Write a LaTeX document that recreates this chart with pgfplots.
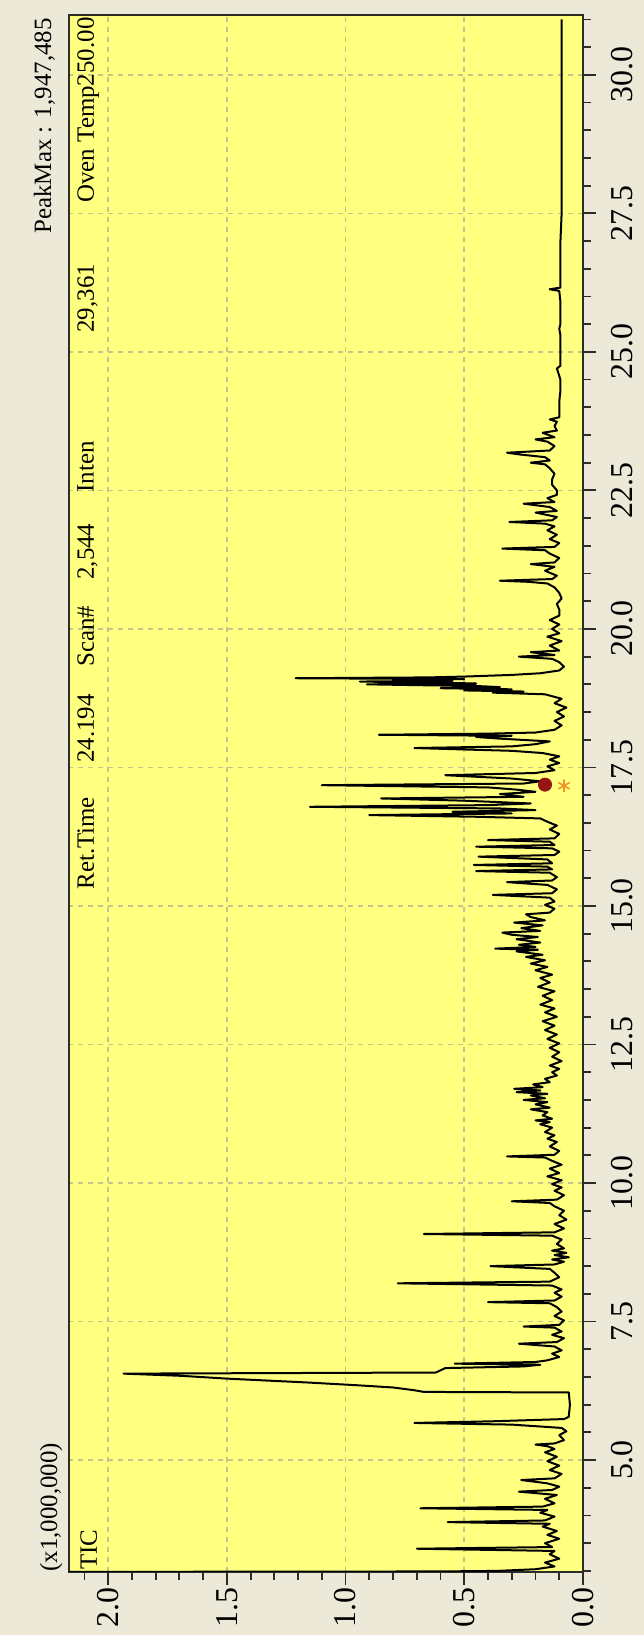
\documentclass[border=0pt]{standalone}
\usepackage{pgfplots}
\pgfplotsset{compat=1.18}
\usepackage{pgfplotstable}
\usepackage{fontspec}
\setmainfont{Liberation Serif}

\definecolor{panelbg}{RGB}{236,233,216}
\definecolor{plotyellow}{RGB}{255,255,128}
\definecolor{gridcol}{RGB}{196,196,140}
\definecolor{framecol}{RGB}{45,45,40}
\definecolor{cursorred}{RGB}{150,20,20}
\definecolor{cursororange}{RGB}{240,150,40}

\newcommand{\lbl}{\fontsize{12.5}{15}\selectfont}
\newcommand{\ticklbl}{\fontsize{16}{18}\selectfont}

% total ion current: retention time (min), intensity (x1,000,000)
\pgfplotstableread{
t i
2.980 2.40
2.985 1.56
2.990 0.60
3.000 0.36
3.030 0.20
3.080 0.12
3.150 0.16
3.220 0.10
3.300 0.14
3.360 0.12
3.400 0.70
3.430 0.13
3.500 0.16
3.580 0.10
3.650 0.15
3.720 0.11
3.800 0.17
3.850 0.14
3.880 0.57
3.910 0.16
3.980 0.12
4.050 0.18
4.100 0.15
4.130 0.685
4.160 0.17
4.220 0.12
4.300 0.16
4.370 0.11
4.430 0.27
4.460 0.13
4.520 0.10
4.580 0.15
4.640 0.26
4.670 0.12
4.750 0.09
4.820 0.14
4.900 0.10
4.980 0.15
5.060 0.11
5.140 0.16
5.200 0.12
5.250 0.15
5.280 0.20
5.300 0.12
5.360 0.08
5.450 0.10
5.520 0.07
5.580 0.09
5.640 0.30
5.670 0.71
5.700 0.38
5.740 0.08
5.780 0.06
6.000 0.055
6.220 0.06
6.230 0.67
6.260 0.71
6.310 0.80
6.350 0.95
6.400 1.16
6.470 1.50
6.520 1.69
6.560 1.935
6.580 0.62
6.660 0.58
6.690 0.25
6.720 0.18
6.740 0.54
6.770 0.20
6.800 0.15
6.860 0.10
6.920 0.13
6.980 0.09
7.050 0.12
7.100 0.27
7.130 0.11
7.200 0.08
7.260 0.13
7.320 0.09
7.390 0.12
7.410 0.25
7.440 0.10
7.520 0.08
7.600 0.12
7.680 0.09
7.760 0.11
7.830 0.14
7.850 0.40
7.880 0.12
7.950 0.09
8.020 0.12
8.080 0.09
8.150 0.13
8.190 0.78
8.220 0.14
8.300 0.10
8.380 0.12
8.450 0.14
8.500 0.39
8.530 0.12
8.580 0.08
8.620 0.13
8.660 0.06
8.700 0.12
8.740 0.07
8.780 0.13
8.820 0.08
8.900 0.11
8.980 0.09
9.050 0.13
9.080 0.67
9.110 0.12
9.180 0.08
9.260 0.12
9.340 0.07
9.420 0.10
9.500 0.08
9.580 0.12
9.640 0.14
9.670 0.30
9.700 0.11
9.780 0.08
9.860 0.12
9.920 0.09
9.980 0.13
10.050 0.09
10.120 0.15
10.180 0.10
10.260 0.14
10.330 0.09
10.400 0.13
10.460 0.16
10.480 0.32
10.510 0.12
10.580 0.10
10.660 0.14
10.740 0.11
10.800 0.15
10.860 0.12
10.920 0.16
11.000 0.13
11.060 0.18
11.100 0.14
11.130 0.20
11.160 0.13
11.220 0.17
11.280 0.15
11.330 0.22
11.360 0.14
11.420 0.20
11.460 0.15
11.500 0.25
11.530 0.16
11.580 0.22
11.610 0.15
11.640 0.28
11.670 0.18
11.700 0.29
11.730 0.17
11.780 0.21
11.820 0.14
11.880 0.16
11.940 0.11
12.000 0.13
12.060 0.10
12.120 0.14
12.200 0.09
12.280 0.13
12.360 0.10
12.440 0.14
12.520 0.10
12.600 0.15
12.680 0.11
12.760 0.16
12.840 0.12
12.920 0.17
13.000 0.11
13.080 0.16
13.150 0.12
13.220 0.18
13.300 0.13
13.380 0.17
13.460 0.12
13.540 0.19
13.620 0.14
13.700 0.18
13.760 0.13
13.840 0.20
13.900 0.15
13.960 0.22
14.020 0.16
14.080 0.24
14.120 0.17
14.180 0.28
14.210 0.19
14.230 0.37
14.260 0.20
14.300 0.27
14.340 0.18
14.400 0.28
14.440 0.19
14.480 0.30
14.520 0.34
14.550 0.18
14.600 0.26
14.650 0.17
14.700 0.29
14.740 0.16
14.800 0.22
14.850 0.24
14.880 0.14
14.950 0.12
15.020 0.16
15.080 0.12
15.150 0.14
15.200 0.38
15.230 0.13
15.300 0.11
15.380 0.15
15.430 0.32
15.460 0.13
15.520 0.11
15.600 0.14
15.630 0.45
15.660 0.13
15.710 0.15
15.740 0.46
15.770 0.13
15.840 0.15
15.890 0.44
15.920 0.12
15.980 0.10
16.040 0.13
16.070 0.45
16.100 0.12
16.160 0.14
16.190 0.40
16.220 0.12
16.300 0.10
16.380 0.14
16.450 0.11
16.520 0.15
16.580 0.18
16.610 0.45
16.640 0.90
16.670 0.30
16.700 0.55
16.730 0.20
16.760 0.35
16.790 1.15
16.820 0.40
16.850 0.22
16.900 0.50
16.940 0.85
16.970 0.25
17.020 0.35
17.060 0.20
17.100 0.28
17.140 0.40
17.180 1.10
17.210 0.25
17.250 0.18
17.300 0.30
17.360 0.58
17.400 0.20
17.450 0.12
17.520 0.15
17.580 0.10
17.640 0.14
17.700 0.10
17.760 0.17
17.800 0.30
17.850 0.71
17.880 0.30
17.920 0.20
17.970 0.14
18.020 0.35
18.050 0.45
18.070 0.30
18.090 0.86
18.110 0.40
18.130 0.20
18.180 0.12
18.260 0.09
18.340 0.12
18.420 0.08
18.500 0.11
18.580 0.07
18.660 0.12
18.740 0.09
18.820 0.16
18.850 0.38
18.870 0.25
18.890 0.50
18.910 0.30
18.930 0.60
18.950 0.35
18.970 0.45
18.985 0.70
19.000 0.91
19.015 0.45
19.030 0.60
19.050 0.94
19.065 0.55
19.080 0.80
19.095 0.50
19.110 1.21
19.125 0.65
19.140 0.50
19.155 0.40
19.170 0.30
19.200 0.18
19.250 0.10
19.320 0.08
19.400 0.10
19.460 0.13
19.500 0.27
19.530 0.12
19.580 0.22
19.610 0.10
19.700 0.14
19.780 0.09
19.860 0.15
19.920 0.10
20.000 0.13
20.080 0.10
20.160 0.14
20.240 0.10
20.350 0.10
20.450 0.11
20.550 0.09
20.650 0.10
20.750 0.12
20.820 0.15
20.850 0.23
20.870 0.35
20.900 0.13
20.960 0.11
21.050 0.16
21.120 0.12
21.170 0.22
21.200 0.12
21.280 0.10
21.360 0.14
21.420 0.16
21.450 0.34
21.480 0.12
21.550 0.10
21.620 0.14
21.700 0.11
21.780 0.15
21.850 0.12
21.900 0.16
21.930 0.31
21.960 0.13
22.020 0.11
22.100 0.20
22.130 0.11
22.200 0.14
22.260 0.25
22.290 0.12
22.360 0.15
22.420 0.11
22.500 0.11
22.600 0.13
22.700 0.13
22.800 0.12
22.900 0.14
22.970 0.16
23.000 0.22
23.040 0.14
23.100 0.16
23.150 0.27
23.180 0.32
23.220 0.14
23.300 0.12
23.380 0.15
23.420 0.20
23.460 0.12
23.540 0.17
23.580 0.11
23.660 0.12
23.740 0.11
23.780 0.14
23.820 0.10
23.950 0.10
24.100 0.10
24.300 0.095
24.500 0.095
24.700 0.11
24.750 0.095
25.000 0.095
25.300 0.095
25.420 0.10
25.500 0.095
25.900 0.095
26.100 0.10
26.130 0.14
26.160 0.095
26.600 0.095
27.000 0.095
27.500 0.09
28.000 0.09
28.500 0.09
29.000 0.09
29.500 0.09
30.000 0.09
30.500 0.09
31.000 0.09
}\tictable

\begin{document}
\begin{tikzpicture}
% window background, also the page size
\path[use as bounding box, fill=panelbg] (-34.5bp,-31.5bp) rectangle (287.5bp,786bp);
\begin{axis}[
  at={(0,0)}, anchor=south west,
  scale only axis, width=257bp, height=778.5bp,
  x dir=reverse,
  xmin=0, xmax=2.165, ymin=2.98, ymax=31.08,
  clip mode=individual,
  axis background/.style={fill=plotyellow},
  axis line style={framecol, line width=1.3bp},
  xtick={0,0.5,1.0,1.5,2.0},
  minor xtick={0.1,0.2,0.3,0.4,0.6,0.7,0.8,0.9,1.1,1.2,1.3,1.4,1.6,1.7,1.8,1.9,2.1},
  ytick={5,7.5,10,12.5,15,17.5,20,22.5,25,27.5,30},
  minor ytick={3,3.5,4,4.5,5.5,6,6.5,7,8,8.5,9,9.5,10.5,11,11.5,12,13,13.5,14,14.5,15.5,16,16.5,17,18,18.5,19,19.5,20.5,21,21.5,22,23,23.5,24,24.5,25.5,26,26.5,27,28,28.5,29,29.5,30.5,31},
  xtick pos=left, ytick pos=right,
  xticklabel pos=left, yticklabel pos=right,
  tick align=outside,
  major tick length=6.5bp, minor tick length=4bp,
  tick style={framecol, line width=0.9bp},
  grid=major,
  major grid style={gridcol, dash pattern=on 2.5bp off 2.5bp, line width=0.8bp},
  /pgf/number format/.cd, fixed, fixed zerofill, precision=1, assume math mode=true,
  /pgfplots/.cd,
  tick label style={font=\ticklbl, text=black},
  xticklabel style={rotate=90, anchor=east, inner sep=1bp},
  yticklabel style={rotate=90, anchor=north, inner sep=1bp},
  yticklabel shift=6.5bp,
]
\addplot[black, line width=1bp, line join=round] table[x=i, y=t] {\tictable};
% cursor position
\addplot[only marks, mark=*, mark size=3.3bp, cursorred] coordinates {(0.16,17.19)};
\addplot[only marks, mark=asterisk, mark size=3.2bp, cursororange, line width=0.8bp] coordinates {(0.08,17.17)};
\end{axis}
% header line (the frame spans 0..257bp across and 0..778.5bp along the time axis)
\begin{scope}[every node/.style={rotate=90, inner sep=0pt, font=\lbl}]
\node[anchor=north west] at (5.5bp,1bp) {TIC};
\node[anchor=north west] at (4bp,341bp) {Ret.Time};
\node[anchor=north west] at (4bp,404.5bp) {24.194};
\node[anchor=north west] at (4bp,452.5bp) {Scan\#};
\node[anchor=north west] at (4bp,496bp) {2,544};
\node[anchor=north west] at (4bp,539.5bp) {Inten};
\node[anchor=north west] at (4bp,619.5bp) {29,361};
\node[anchor=north west] at (4bp,684.5bp) {Oven Temp250.00};
\node[anchor=base west] at (-6bp,0bp) {(x1,000,000)};
\node[anchor=base east] at (-9bp,777bp) {PeakMax : 1,947,485};
\end{scope}
\end{tikzpicture}
\end{document}
